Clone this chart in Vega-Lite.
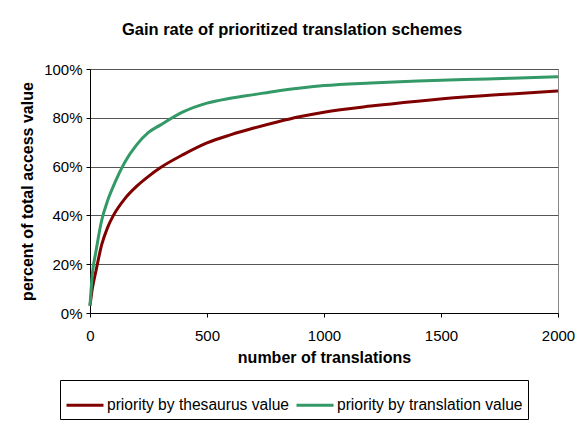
{
  "$schema": "https://vega.github.io/schema/vega-lite/v6.json",
  "width": 468,
  "height": 244,
  "autosize": "none",
  "padding": {"left": 90, "top": 69, "right": 28, "bottom": 111},
  "background": "white",
  "title": {
    "text": "Gain rate of prioritized translation schemes",
    "font": "Liberation Sans",
    "fontSize": 16.5,
    "fontWeight": "bold",
    "color": "black",
    "anchor": "middle",
    "dx": -32,
    "offset": 24
  },
  "data": {
    "values": [
      {"n": 0, "series": "priority by thesaurus value", "v": 0.03},
      {"n": 10, "series": "priority by thesaurus value", "v": 0.10},
      {"n": 25, "series": "priority by thesaurus value", "v": 0.17},
      {"n": 50, "series": "priority by thesaurus value", "v": 0.28},
      {"n": 75, "series": "priority by thesaurus value", "v": 0.35},
      {"n": 100, "series": "priority by thesaurus value", "v": 0.40},
      {"n": 150, "series": "priority by thesaurus value", "v": 0.47},
      {"n": 200, "series": "priority by thesaurus value", "v": 0.52},
      {"n": 250, "series": "priority by thesaurus value", "v": 0.56},
      {"n": 300, "series": "priority by thesaurus value", "v": 0.595},
      {"n": 400, "series": "priority by thesaurus value", "v": 0.65},
      {"n": 500, "series": "priority by thesaurus value", "v": 0.697},
      {"n": 600, "series": "priority by thesaurus value", "v": 0.73},
      {"n": 700, "series": "priority by thesaurus value", "v": 0.758},
      {"n": 800, "series": "priority by thesaurus value", "v": 0.783},
      {"n": 900, "series": "priority by thesaurus value", "v": 0.805},
      {"n": 1000, "series": "priority by thesaurus value", "v": 0.823},
      {"n": 1200, "series": "priority by thesaurus value", "v": 0.848},
      {"n": 1400, "series": "priority by thesaurus value", "v": 0.868},
      {"n": 1600, "series": "priority by thesaurus value", "v": 0.885},
      {"n": 1800, "series": "priority by thesaurus value", "v": 0.898},
      {"n": 2000, "series": "priority by thesaurus value", "v": 0.91},
      {"n": 0, "series": "priority by translation value", "v": 0.03},
      {"n": 10, "series": "priority by translation value", "v": 0.16},
      {"n": 25, "series": "priority by translation value", "v": 0.25},
      {"n": 50, "series": "priority by translation value", "v": 0.38},
      {"n": 75, "series": "priority by translation value", "v": 0.46},
      {"n": 100, "series": "priority by translation value", "v": 0.52},
      {"n": 150, "series": "priority by translation value", "v": 0.62},
      {"n": 200, "series": "priority by translation value", "v": 0.69},
      {"n": 250, "series": "priority by translation value", "v": 0.74},
      {"n": 300, "series": "priority by translation value", "v": 0.77},
      {"n": 400, "series": "priority by translation value", "v": 0.825},
      {"n": 500, "series": "priority by translation value", "v": 0.86},
      {"n": 600, "series": "priority by translation value", "v": 0.88},
      {"n": 700, "series": "priority by translation value", "v": 0.895},
      {"n": 800, "series": "priority by translation value", "v": 0.91},
      {"n": 900, "series": "priority by translation value", "v": 0.922},
      {"n": 1000, "series": "priority by translation value", "v": 0.932},
      {"n": 1200, "series": "priority by translation value", "v": 0.943},
      {"n": 1400, "series": "priority by translation value", "v": 0.951},
      {"n": 1600, "series": "priority by translation value", "v": 0.957},
      {"n": 1800, "series": "priority by translation value", "v": 0.962},
      {"n": 2000, "series": "priority by translation value", "v": 0.968}
    ]
  },
  "mark": {"type": "line", "strokeWidth": 3, "interpolate": "monotone"},
  "encoding": {
    "x": {
      "field": "n",
      "type": "quantitative",
      "scale": {"domain": [0, 2000], "nice": false},
      "axis": {
        "title": "number of translations",
        "format": "d",
        "values": [0, 500, 1000, 1500, 2000],
        "grid": false,
        "domainColor": "black",
        "tickColor": "black",
        "tickSize": 4,
        "labelPadding": 11,
        "labelFontSize": 15,
        "titleFontSize": 16,
        "titlePadding": 6,
        "labelFlush": false
      }
    },
    "y": {
      "field": "v",
      "type": "quantitative",
      "scale": {"domain": [0, 1], "nice": false},
      "axis": {
        "title": "percent of total access value",
        "format": ".0%",
        "values": [0, 0.2, 0.4, 0.6, 0.8, 1],
        "grid": true,
        "gridColor": "#555555",
        "gridWidth": 1,
        "domainColor": "black",
        "tickColor": "black",
        "tickSize": 4,
        "labelPadding": 4,
        "labelFontSize": 15,
        "titleFontSize": 16,
        "titlePadding": 8
      }
    },
    "color": {
      "field": "series",
      "type": "nominal",
      "scale": {
        "domain": ["priority by thesaurus value", "priority by translation value"],
        "range": ["#800000", "#339966"]
      },
      "legend": {
        "title": null,
        "orient": "none",
        "direction": "horizontal",
        "legendX": -30,
        "legendY": 311,
        "columns": 2,
        "columnPadding": 0,
        "symbolType": "stroke",
        "symbolSize": 1369,
        "symbolStrokeWidth": 3,
        "labelOffset": 2,
        "labelFontSize": 15.6,
        "labelFont": "Liberation Sans",
        "labelColor": "black",
        "labelLimit": 300,
        "strokeColor": "black",
        "padding": 5,
        "fillColor": "white"
      }
    }
  },
  "config": {
    "font": "Liberation Sans",
    "view": {"stroke": "#888888", "strokeWidth": 1},
    "axis": {
      "labelFont": "Liberation Sans",
      "titleFont": "Liberation Sans",
      "labelColor": "black",
      "titleColor": "black",
      "titleFontWeight": "bold"
    }
  }
}
